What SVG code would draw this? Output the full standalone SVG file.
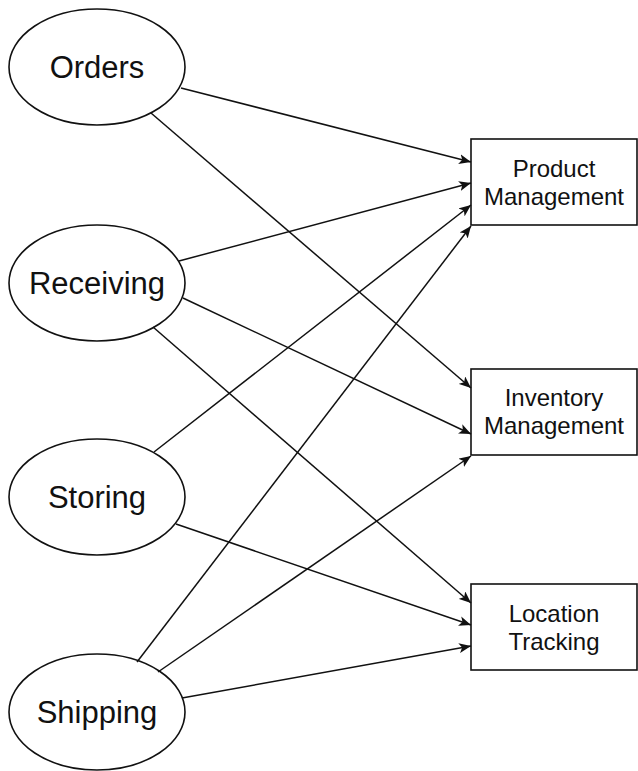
<svg xmlns="http://www.w3.org/2000/svg" width="638" height="771" viewBox="0 0 638 771">
<style>
.n{fill:#fff;stroke:#111;stroke-width:1.6}
.e{font-family:"Liberation Sans",Arial,sans-serif;font-size:31px;fill:#111;text-anchor:middle}
.b{font-family:"Liberation Sans",Arial,sans-serif;font-size:24px;fill:#111;text-anchor:middle}
.c line{stroke:#111;stroke-width:1.5;marker-end:url(#ah)}
</style>
<defs>
<marker id="ah" viewBox="0 0 12 10" refX="12" refY="5" markerWidth="12" markerHeight="10" markerUnits="userSpaceOnUse" orient="auto">
<path d="M0,0 L12,5 L0,10 L3,5 Z" fill="#111"/>
</marker>
</defs>
<rect width="638" height="771" fill="#fff"/>
<g id="orders"><ellipse class="n" cx="97" cy="67" rx="88" ry="58"/><text class="e" x="97" y="78">Orders</text></g>
<g id="receiving"><ellipse class="n" cx="97" cy="283" rx="88" ry="58"/><text class="e" x="97" y="294">Receiving</text></g>
<g id="storing"><ellipse class="n" cx="97" cy="497" rx="88" ry="58"/><text class="e" x="97" y="508">Storing</text></g>
<g id="shipping"><ellipse class="n" cx="97" cy="712" rx="88" ry="58"/><text class="e" x="97" y="723">Shipping</text></g>
<g id="product"><rect class="n" x="471" y="139" width="166" height="86"/><text class="b" x="554" y="177">Product</text><text class="b" x="554" y="205">Management</text></g>
<g id="inventory"><rect class="n" x="471" y="369" width="166" height="86"/><text class="b" x="554" y="406">Inventory</text><text class="b" x="554" y="434">Management</text></g>
<g id="location"><rect class="n" x="471" y="584" width="166" height="86"/><text class="b" x="554" y="622">Location</text><text class="b" x="554" y="650">Tracking</text></g>
<g class="c" id="connectors">
<line x1="181" y1="88" x2="471" y2="162"/>
<line x1="151" y1="113" x2="471" y2="388"/>
<line x1="179" y1="261" x2="471" y2="183"/>
<line x1="183" y1="298" x2="471" y2="434"/>
<line x1="153" y1="327" x2="471" y2="603"/>
<line x1="154" y1="452" x2="471" y2="205"/>
<line x1="176" y1="524" x2="471" y2="625"/>
<line x1="137" y1="662" x2="471" y2="226"/>
<line x1="158" y1="672" x2="471" y2="456"/>
<line x1="182" y1="698" x2="471" y2="646"/>
</g>
</svg>
